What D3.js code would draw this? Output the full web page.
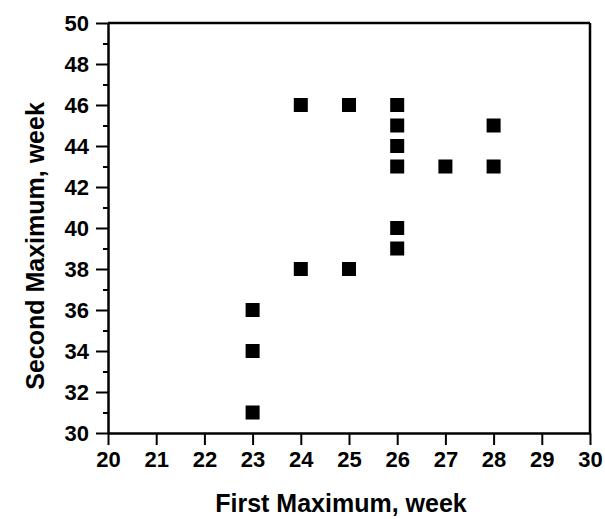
<!DOCTYPE html>
<html><head><meta charset="utf-8">
<script src="https://cdn.jsdelivr.net/npm/d3@7"></script>
<style>body{margin:0;background:#fff}svg{display:block}text{font-family:"Liberation Sans",Arial,sans-serif;font-weight:bold;fill:#000}</style>
</head><body>
<script>
const firstMax = [23,23,23,24,24,25,25,26,26,26,26,26,26,27,28,28];
const secondMax = [31,34,36,38,46,38,46,46,45,44,43,40,39,43,45,43];
const xTicks = [20,21,22,23,24,25,26,27,28,29,30];
const yTicks = [30,32,34,36,38,40,42,44,46,48,50];
const yMinor = [31,33,35,37,39,41,43,45,47,49];

const W=605,H=519;
const svg=d3.select("body").append("svg").attr("width",W).attr("height",H);
const x=d3.scaleLinear().domain([20,30]).range([108,590]);
const y=d3.scaleLinear().domain([30,50]).range([433,23]);

const gx=svg.append("g").attr("transform","translate(0,433)")
  .call(d3.axisBottom(x).tickValues(xTicks).tickSize(12).tickPadding(6).tickSizeOuter(0));
const gy=svg.append("g").attr("transform","translate(108,0)")
  .call(d3.axisLeft(y).tickValues(yTicks).tickSize(12).tickPadding(7).tickSizeOuter(0));
const gm=svg.append("g").attr("transform","translate(108,0)")
  .call(d3.axisLeft(y).tickValues(yMinor).tickSize(5).tickFormat("").tickSizeOuter(0));
gm.select(".domain").remove();
[gx,gy].forEach(g=>{g.selectAll("text").style("font-size","22px").style("font-family","'Liberation Sans',Arial,sans-serif").style("font-weight","bold");});
svg.selectAll("line").attr("stroke","#000").attr("stroke-width",2);
svg.append("line").attr("x1",x(20)).attr("x2",x(30)).attr("y1",y(50)).attr("y2",y(50)).attr("stroke","#000").attr("stroke-width",2.5);
svg.append("line").attr("x1",x(30)).attr("x2",x(30)).attr("y1",y(50)).attr("y2",y(30)).attr("stroke","#000").attr("stroke-width",2.5);
gx.select(".domain").attr("stroke","#000").attr("stroke-width",2.5);
gy.select(".domain").attr("stroke","#000").attr("stroke-width",2.5);

const s=14;
svg.append("g").selectAll("rect").data(firstMax.map((d,i)=>[d,secondMax[i]])).join("rect")
  .attr("x",d=>x(d[0])-s/2).attr("y",d=>y(d[1])-s/2).attr("width",s).attr("height",s).attr("fill","#000");

svg.append("text").attr("x",341).attr("y",512).attr("text-anchor","middle").style("font-size","25px").text("First Maximum, week");
svg.append("text").attr("transform","translate(44,246) rotate(-90)").attr("text-anchor","middle").style("font-size","25px").text("Second Maximum, week");
</script>
</body></html>
